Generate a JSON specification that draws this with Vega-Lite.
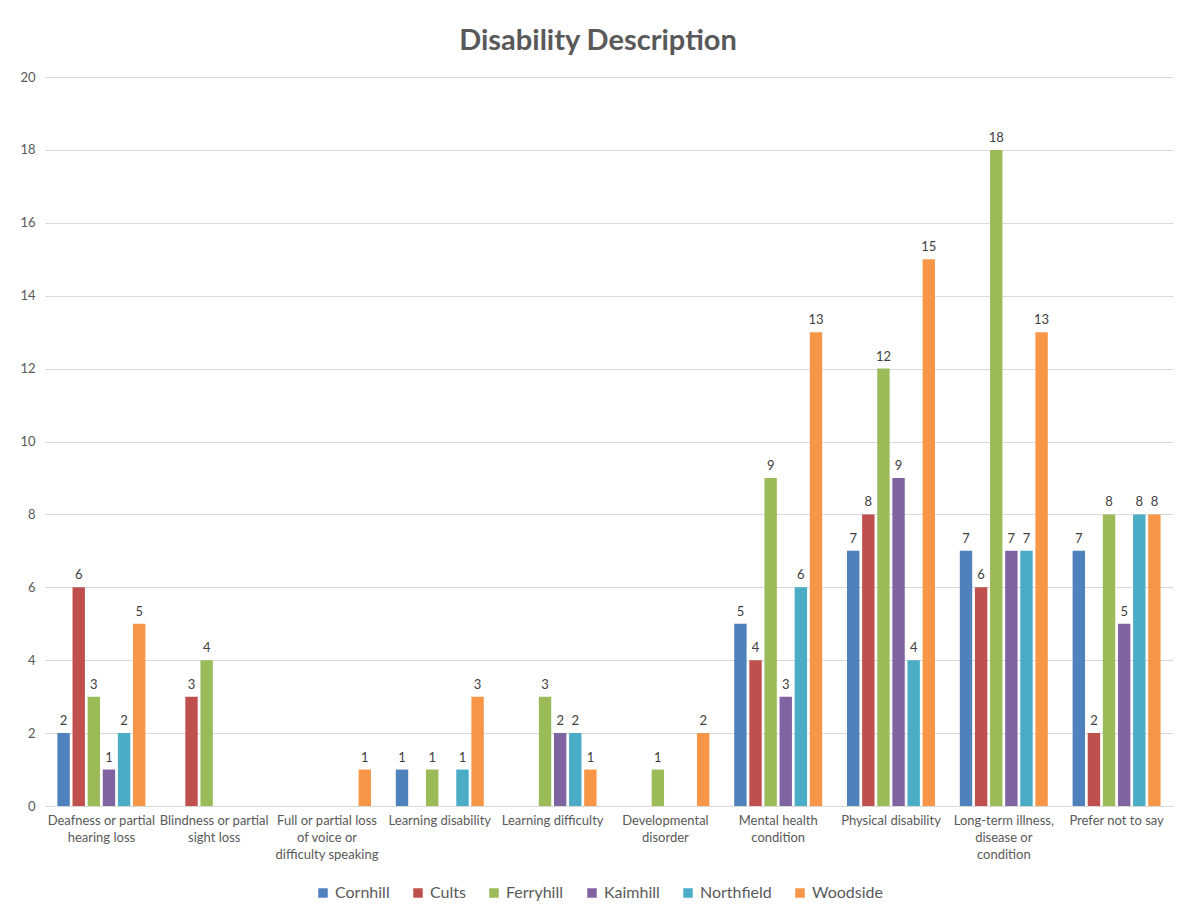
{
  "$schema": "https://vega.github.io/schema/vega-lite/v6.json",
  "width": 1128,
  "height": 729,
  "autosize": {"type": "none"},
  "padding": {"left": 45, "top": 77, "right": 11, "bottom": 109},
  "background": "white",
  "title": {"text": "Disability Description", "fontSize": 29, "font": "Lato", "fontWeight": "bold", "color": "#595959", "anchor": "middle", "offset": 15, "dx": -11},
  "config": {
    "font": "Lato",
    "view": {"stroke": null},
    "axis": {"labelFont": "Lato", "labelColor": "#595959", "labelFontSize": 13}
  },
  "data": {
    "values": [
      {"category": "Deafness or partial hearing loss", "site": "Cornhill", "count": 2},
      {"category": "Deafness or partial hearing loss", "site": "Cults", "count": 6},
      {"category": "Deafness or partial hearing loss", "site": "Ferryhill", "count": 3},
      {"category": "Deafness or partial hearing loss", "site": "Kaimhill", "count": 1},
      {"category": "Deafness or partial hearing loss", "site": "Northfield", "count": 2},
      {"category": "Deafness or partial hearing loss", "site": "Woodside", "count": 5},
      {"category": "Blindness or partial sight loss", "site": "Cults", "count": 3},
      {"category": "Blindness or partial sight loss", "site": "Ferryhill", "count": 4},
      {"category": "Full or partial loss of voice or difficulty speaking", "site": "Woodside", "count": 1},
      {"category": "Learning disability", "site": "Cornhill", "count": 1},
      {"category": "Learning disability", "site": "Ferryhill", "count": 1},
      {"category": "Learning disability", "site": "Northfield", "count": 1},
      {"category": "Learning disability", "site": "Woodside", "count": 3},
      {"category": "Learning difficulty", "site": "Ferryhill", "count": 3},
      {"category": "Learning difficulty", "site": "Kaimhill", "count": 2},
      {"category": "Learning difficulty", "site": "Northfield", "count": 2},
      {"category": "Learning difficulty", "site": "Woodside", "count": 1},
      {"category": "Developmental disorder", "site": "Ferryhill", "count": 1},
      {"category": "Developmental disorder", "site": "Woodside", "count": 2},
      {"category": "Mental health condition", "site": "Cornhill", "count": 5},
      {"category": "Mental health condition", "site": "Cults", "count": 4},
      {"category": "Mental health condition", "site": "Ferryhill", "count": 9},
      {"category": "Mental health condition", "site": "Kaimhill", "count": 3},
      {"category": "Mental health condition", "site": "Northfield", "count": 6},
      {"category": "Mental health condition", "site": "Woodside", "count": 13},
      {"category": "Physical disability", "site": "Cornhill", "count": 7},
      {"category": "Physical disability", "site": "Cults", "count": 8},
      {"category": "Physical disability", "site": "Ferryhill", "count": 12},
      {"category": "Physical disability", "site": "Kaimhill", "count": 9},
      {"category": "Physical disability", "site": "Northfield", "count": 4},
      {"category": "Physical disability", "site": "Woodside", "count": 15},
      {"category": "Long-term illness, disease or condition", "site": "Cornhill", "count": 7},
      {"category": "Long-term illness, disease or condition", "site": "Cults", "count": 6},
      {"category": "Long-term illness, disease or condition", "site": "Ferryhill", "count": 18},
      {"category": "Long-term illness, disease or condition", "site": "Kaimhill", "count": 7},
      {"category": "Long-term illness, disease or condition", "site": "Northfield", "count": 7},
      {"category": "Long-term illness, disease or condition", "site": "Woodside", "count": 13},
      {"category": "Prefer not to say", "site": "Cornhill", "count": 7},
      {"category": "Prefer not to say", "site": "Cults", "count": 2},
      {"category": "Prefer not to say", "site": "Ferryhill", "count": 8},
      {"category": "Prefer not to say", "site": "Kaimhill", "count": 5},
      {"category": "Prefer not to say", "site": "Northfield", "count": 8},
      {"category": "Prefer not to say", "site": "Woodside", "count": 8}
    ]
  },
  "encoding": {
    "x": {
      "field": "category",
      "type": "nominal",
      "sort": ["Deafness or partial hearing loss", "Blindness or partial sight loss", "Full or partial loss of voice or difficulty speaking", "Learning disability", "Learning difficulty", "Developmental disorder", "Mental health condition", "Physical disability", "Long-term illness, disease or condition", "Prefer not to say"],
      "scale": {"paddingInner": 0.22, "paddingOuter": 0.11},
      "axis": {
        "title": null,
        "labelAngle": 0,
        "ticks": false,
        "domainColor": "#d9d9d9",
        "labelPadding": 8,
        "labelLineHeight": 17,
        "labelLimit": 200,
        "labelExpr": "datum.label == 'Deafness or partial hearing loss' ? ['Deafness or partial', 'hearing loss'] : datum.label == 'Blindness or partial sight loss' ? ['Blindness or partial', 'sight loss'] : datum.label == 'Full or partial loss of voice or difficulty speaking' ? ['Full or partial loss', 'of voice or', 'difficulty speaking'] : datum.label == 'Developmental disorder' ? ['Developmental', 'disorder'] : datum.label == 'Mental health condition' ? ['Mental health', 'condition'] : datum.label == 'Long-term illness, disease or condition' ? ['Long-term illness,', 'disease or', 'condition'] : datum.label"
      }
    },
    "xOffset": {
      "field": "site",
      "type": "nominal",
      "scale": {"domain": ["Cornhill", "Cults", "Ferryhill", "Kaimhill", "Northfield", "Woodside"], "paddingInner": 0.18, "paddingOuter": 0}
    },
    "y": {
      "field": "count",
      "type": "quantitative",
      "scale": {"domain": [0, 20]},
      "axis": {
        "title": null,
        "values": [0, 2, 4, 6, 8, 10, 12, 14, 16, 18, 20],
        "domain": false,
        "ticks": false,
        "gridColor": "#d9d9d9",
        "labelPadding": 10,
        "labelFontSize": 13
      }
    }
  },
  "layer": [
    {
      "mark": {"type": "bar"},
      "encoding": {
        "color": {
          "field": "site",
          "type": "nominal",
          "scale": {"domain": ["Cornhill", "Cults", "Ferryhill", "Kaimhill", "Northfield", "Woodside"], "range": ["#4F81BD", "#C0504D", "#9BBB59", "#8064A2", "#4BACC6", "#F79646"]},
          "legend": {
            "title": null,
            "orient": "none",
            "legendX": 270,
            "legendY": 808,
            "direction": "horizontal",
            "symbolType": "square",
            "symbolSize": 90,
            "symbolStrokeWidth": 0,
            "labelFontSize": 16,
            "labelColor": "#595959",
            "labelFont": "Lato",
            "columnPadding": 20
          }
        }
      }
    },
    {
      "mark": {"type": "text", "baseline": "bottom", "dy": -5, "fontSize": 13, "color": "#404040", "font": "Lato"},
      "encoding": {
        "text": {"field": "count", "type": "quantitative"}
      }
    }
  ]
}
